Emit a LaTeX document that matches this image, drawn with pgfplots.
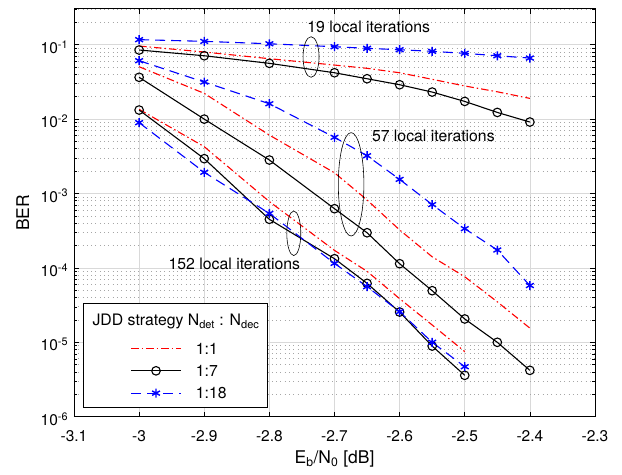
\documentclass[border=0pt]{standalone}
\usepackage{fontspec}
\setmainfont{TeX Gyre Heros}
\usepackage{pgfplots}
\pgfplotsset{compat=1.18}
\newcommand\fsT{\fontsize{15.5bp}{18bp}\selectfont}
\newcommand\fsL{\fontsize{17.5bp}{20bp}\selectfont}
\newcommand\fsA{\fontsize{15.8bp}{19bp}\selectfont}
\begin{document}
\begin{tikzpicture}
\begin{axis}[
  scale only axis, width=521bp, height=408bp,
  ymode=log,
  xmin=-3.1, xmax=-2.3, ymin=1e-6, ymax=0.305,
  xtick={-3.1,-3,-2.9,-2.8,-2.7,-2.6,-2.5,-2.4,-2.3},
  xticklabels={-3.1,-3,-2.9,-2.8,-2.7,-2.6,-2.5,-2.4,-2.3},
  ytick={1e-6,1e-5,1e-4,1e-3,1e-2,1e-1},
  yticklabels={10\textsuperscript{-6},10\textsuperscript{-5},10\textsuperscript{-4},10\textsuperscript{-3},10\textsuperscript{-2},10\textsuperscript{-1}},
  minor ytick={2e-6,3e-6,4e-6,5e-6,6e-6,7e-6,8e-6,9e-6,
               2e-5,3e-5,4e-5,5e-5,6e-5,7e-5,8e-5,9e-5,
               2e-4,3e-4,4e-4,5e-4,6e-4,7e-4,8e-4,9e-4,
               2e-3,3e-3,4e-3,5e-3,6e-3,7e-3,8e-3,9e-3,
               2e-2,3e-2,4e-2,5e-2,6e-2,7e-2,8e-2,9e-2,
               2e-1,3e-1},
  tick align=inside,
  major tick length=5bp, minor tick length=3bp,
  xmajorgrids, ymajorgrids, yminorgrids,
  major grid style={color=black!15, line width=0.7bp},
  minor grid style={color=black!35, line width=0.7bp, dash pattern=on 0.7bp off 3.6bp},
  axis line style={line width=0.8bp},
  tick style={black, line width=0.6bp},
  xticklabel style={font=\fsT, inner sep=0pt, anchor=base, yshift=-24.3bp},
  yticklabel style={font=\fsT, inner sep=0pt, anchor=base east, xshift=-5.7bp, yshift=-8.6bp},
  xlabel={E\textsubscript{b}/N\textsubscript{0} [dB]},
  ylabel={BER},
  xlabel style={font=\fsL, at={(axis description cs:0.5,-0.1142)}, anchor=base},
  ylabel style={font=\fsL, at={(axis description cs:-0.0985,0.5)}, anchor=center},
  legend image code/.code={
    \draw[mark repeat=2,mark phase=2,#1] plot coordinates {(0bp,0bp) (25bp,0bp) (50bp,0bp)};
    \path (-39bp,0bp);
  },
  legend cell align=left,
  legend style={at={(axis description cs:0.018,0.022)}, anchor=south west,
    draw=black, line width=0.8bp, fill=white, font=\fsA,
    nodes={inner sep=0pt, text height=11bp, text depth=0bp},
    row sep=11.3bp, column sep=14.3bp, inner xsep=7.7bp, inner ysep=8.7bp},
  redl/.style={color=red, line width=1.1bp, dash pattern=on 7.5bp off 3bp on 1.5bp off 3bp, mark=none},
  blkl/.style={color=black, line width=1.1bp, solid, mark=o, mark size=4.3bp, mark options={solid, line width=1.1bp}},
  blul/.style={color=blue, line width=1.1bp, dash pattern=on 10bp off 6bp, mark=asterisk, mark size=4.5bp, mark options={solid, line width=1.4bp}},
]
\addlegendimage{empty legend}
\addlegendentry[text height=14bp, text depth=6.1bp]{\hspace*{-103.3bp}JDD strategy N\textsubscript{det} : N\textsubscript{dec}}

% 19 local iterations
\addplot[redl] coordinates {(-3,0.096) (-2.9,0.0798) (-2.8,0.0649) (-2.7,0.0533) (-2.65,0.0482) (-2.6,0.042) (-2.55,0.0343) (-2.5,0.0279) (-2.45,0.0233) (-2.4,0.019)};
\addlegendentry{1:1}
\addplot[blkl] coordinates {(-3,0.0849) (-2.9,0.0711) (-2.8,0.0562) (-2.7,0.042) (-2.65,0.0349) (-2.6,0.029) (-2.55,0.0231) (-2.5,0.0173) (-2.45,0.0123) (-2.4,0.00914)};
\addlegendentry{1:7}
\addplot[blul] coordinates {(-3,0.117) (-2.9,0.111) (-2.8,0.103) (-2.7,0.094) (-2.65,0.0894) (-2.6,0.0857) (-2.55,0.0815) (-2.5,0.0766) (-2.45,0.0711) (-2.4,0.0662)};
\addlegendentry{1:18}

% 57 local iterations
\addplot[redl, forget plot] coordinates {(-3,0.0506) (-2.9,0.0222) (-2.8,0.0061) (-2.7,1.9e-3) (-2.65,8.2e-4) (-2.6,3.24e-4) (-2.55,1.41e-4) (-2.5,7.6e-5) (-2.45,3.5e-5) (-2.4,1.55e-5)};
\addplot[blkl, forget plot] coordinates {(-3,0.0365) (-2.9,0.01) (-2.8,0.00282) (-2.7,6.25e-4) (-2.65,2.97e-4) (-2.6,1.14e-4) (-2.55,4.94e-5) (-2.5,2.06e-5) (-2.45,1.0e-5) (-2.4,4.2e-6)};
\addplot[blul, forget plot] coordinates {(-3,0.061) (-2.9,0.0315) (-2.8,0.0161) (-2.7,0.00569) (-2.65,0.00322) (-2.6,0.00155) (-2.55,7.1e-4) (-2.5,3.37e-4) (-2.45,1.74e-4) (-2.4,5.8e-5)};

% 152 local iterations
\addplot[redl, forget plot] coordinates {(-3,0.01355) (-2.9,4.26e-3) (-2.8,7.8e-4) (-2.7,1.72e-4) (-2.65,9.0e-5) (-2.6,3.86e-5) (-2.55,1.71e-5) (-2.5,7.5e-6)};
\addplot[blkl, forget plot] coordinates {(-3,0.01325) (-2.9,2.94e-3) (-2.8,4.5e-4) (-2.7,1.33e-4) (-2.65,6.2e-5) (-2.6,2.55e-5) (-2.55,8.9e-6) (-2.5,3.6e-6)};
\addplot[blul, forget plot] coordinates {(-3,0.00896) (-2.9,1.93e-3) (-2.8,5.4e-4) (-2.7,1.15e-4) (-2.65,5.6e-5) (-2.6,2.58e-5) (-2.55,1.0e-5) (-2.5,4.7e-6)};

% annotations
\draw[black, line width=0.6bp] (axis cs:-2.736,0.0684) ellipse [x radius=8bp, y radius=20.3bp];
\draw[black, line width=0.6bp] (axis cs:-2.6745,1.33e-3) ellipse [x radius=12.8bp, y radius=51.7bp];
\draw[black, line width=0.6bp] (axis cs:-2.7625,2.92e-4) ellipse [x radius=7bp, y radius=22.3bp];
\node[anchor=west, inner sep=0pt, font=\fsA] at (axis cs:-2.742,0.1746) {19 local iterations};
\node[anchor=west, inner sep=0pt, font=\fsA] at (axis cs:-2.6427,5.93e-3) {57 local iterations};
\node[anchor=west, inner sep=0pt, font=\fsA] at (axis cs:-2.955,1.127e-4) {152 local iterations};
\end{axis}
\path (current axis.south west) ++(-74bp,-58.3bp) rectangle ([xshift=27bp,yshift=8.7bp]current axis.north east);
\end{tikzpicture}
\end{document}
